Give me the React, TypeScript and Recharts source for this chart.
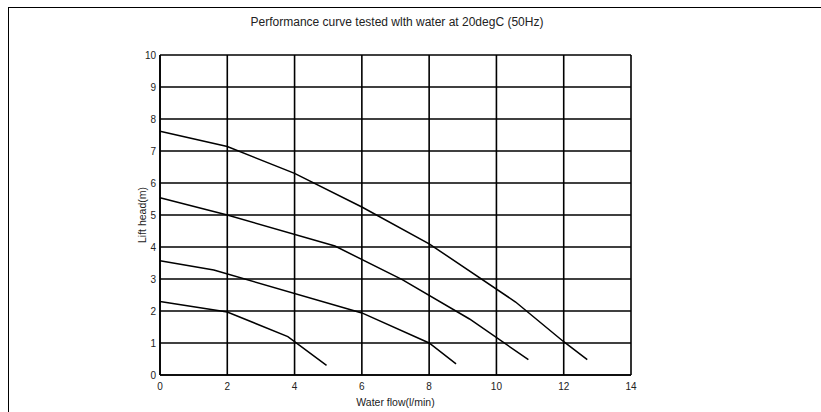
import React from 'react';
import { LineChart, Line, XAxis, YAxis, CartesianGrid } from 'recharts';

// flow (l/min) and lift head (m), top to bottom
const flowA = [0, 2, 4, 6, 8, 10.57, 12, 12.7];
const headA = [7.62, 7.14, 6.3, 5.25, 4.1, 2.28, 1.04, 0.48];

const flowB = [0, 2, 5.2, 7.2, 9.2, 10.95];
const headB = [5.54, 5.0, 4.03, 2.98, 1.75, 0.48];

const flowC = [0, 1.6, 6, 8, 8.8];
const headC = [3.57, 3.28, 1.94, 1.0, 0.35];

const flowD = [0, 2, 3.8, 4.95];
const headD = [2.3, 1.97, 1.2, 0.3];

const xTicks = [0, 2, 4, 6, 8, 10, 12, 14];
const yTicks = [0, 1, 2, 3, 4, 5, 6, 7, 8, 9, 10];

const toPoints = (xs: number[], ys: number[]) => xs.map((x, i) => ({ x, y: ys[i] }));

const curves = [
  toPoints(flowA, headA),
  toPoints(flowB, headB),
  toPoints(flowC, headC),
  toPoints(flowD, headD),
];

const font = '"Liberation Sans", Arial, sans-serif';
const tickStyle = { fontSize: 10, fill: '#222', fontFamily: font };

const YLabel = (props: any) => {
  const vb = props.viewBox || { x: 0, y: 0, width: 0, height: 0 };
  const cx = vb.x + vb.width - 18;
  const cy = vb.y + vb.height / 2;
  return (
    <text
      x={cx}
      y={cy}
      transform={`rotate(-90 ${cx} ${cy})`}
      textAnchor="middle"
      dominantBaseline="central"
      fontSize={10.5}
      fill="#222"
      fontFamily={font}
    >
      Lift head(m)
    </text>
  );
};

export default function App() {
  return (
    <div style={{ position: 'relative', width: 821, height: 412, overflow: 'hidden', background: '#fff' }}>
      <style>{'body{margin:0}'}</style>
      <div
        style={{
          position: 'absolute',
          left: 8,
          top: 7,
          width: 840,
          height: 430,
          border: '1.5px solid #000',
          boxSizing: 'border-box',
        }}
      />
      <div
        style={{
          position: 'absolute',
          left: 0,
          width: 794,
          top: 15,
          textAlign: 'center',
          fontFamily: font,
          fontSize: 12,
          color: '#222',
        }}
      >
        Performance curve tested wlth water at 20degC (50Hz)
      </div>
      <LineChart
        width={821}
        height={412}
        margin={{ top: 55, right: 190, bottom: 0, left: 0 }}
        style={{ position: 'absolute', left: 0, top: 0 }}
      >
        <CartesianGrid stroke="#000" strokeWidth={1.6} />
        <XAxis
          dataKey="x"
          type="number"
          domain={[0, 14]}
          ticks={xTicks}
          height={37}
          tickLine={false}
          axisLine={{ stroke: '#000', strokeWidth: 1.6 }}
          tick={tickStyle}
          allowDuplicatedCategory={false}
          label={{
            value: 'Water flow(l/min)',
            position: 'insideBottom',
            offset: 6,
            style: { fontSize: 10.5, fill: '#222', fontFamily: font },
          }}
        />
        <YAxis
          type="number"
          domain={[0, 10]}
          ticks={yTicks}
          width={160}
          tickLine={false}
          tickSize={2}
          tickMargin={2}
          axisLine={{ stroke: '#000', strokeWidth: 1.6 }}
          tick={tickStyle}
          label={{ content: YLabel }}
        />
        {curves.map((pts, i) => (
          <Line
            key={i}
            data={pts}
            dataKey="y"
            type="linear"
            stroke="#000"
            strokeWidth={1.5}
            dot={false}
            activeDot={false}
            isAnimationActive={false}
          />
        ))}
      </LineChart>
    </div>
  );
}
